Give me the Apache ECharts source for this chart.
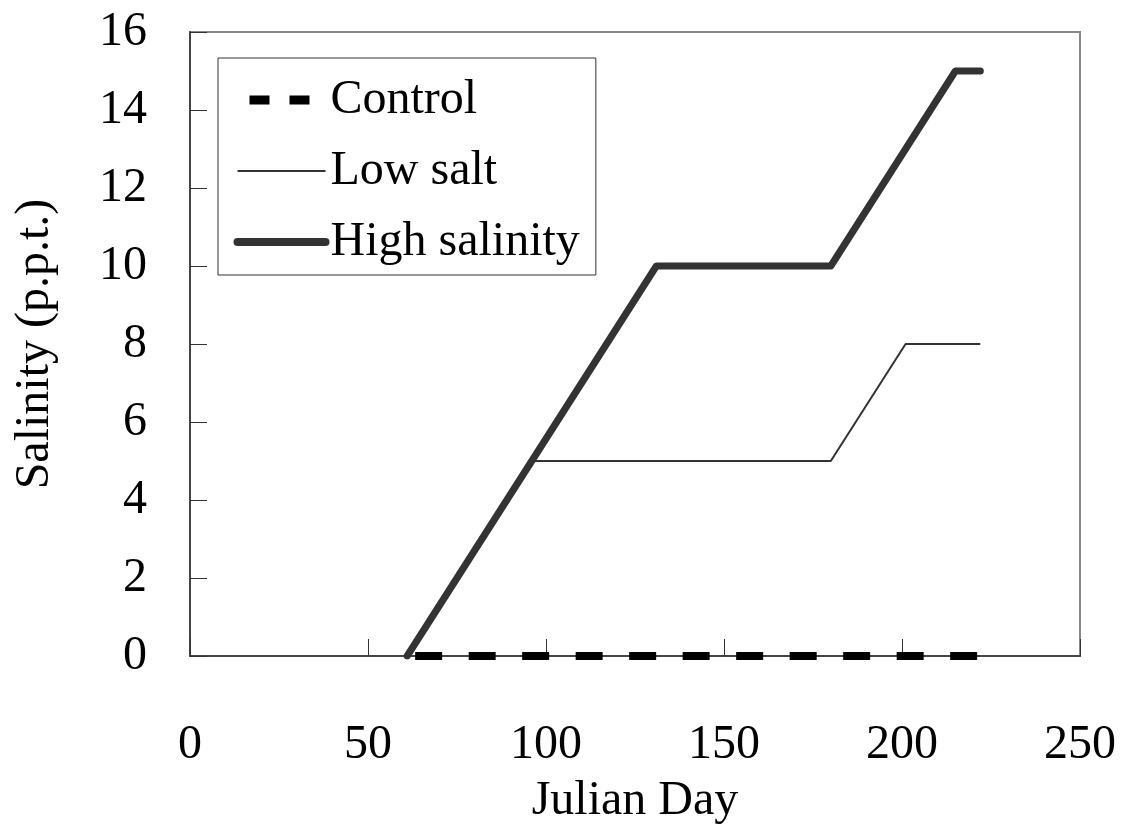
<!DOCTYPE html>
<html>
<head>
<meta charset="utf-8">
<script src="https://cdn.jsdelivr.net/npm/echarts@6/dist/echarts.min.js"></script>
<style>
  html, body { margin: 0; padding: 0; background: #fff; }
  #main { width: 1126px; height: 830px; }
</style>
</head>
<body>
<div id="main"></div>
<script>
// weekly sampling days (Julian day)
var days = [61, 68, 75, 82, 89, 96, 103, 110, 117, 124, 131, 138, 145, 152, 159, 166, 173, 180, 187, 194, 201, 208, 215, 222];
var control = [0, 0, 0, 0, 0, 0, 0, 0, 0, 0, 0, 0, 0, 0, 0, 0, 0, 0, 0, 0, 0, 0, 0, 0];
var lowSalt = [0, 1, 2, 3, 4, 5, 5, 5, 5, 5, 5, 5, 5, 5, 5, 5, 5, 5, 6, 7, 8, 8, 8, 8];
var highSalinity = [0, 1, 2, 3, 4, 5, 6, 7, 8, 9, 10, 10, 10, 10, 10, 10, 10, 10, 11, 12, 13, 14, 15, 15];

var FONT = '"Liberation Serif", "DejaVu Serif", serif';

function pairs(vals) {
  return days.map(function (d, i) { return [d, vals[i]]; });
}

var chart = echarts.init(document.getElementById('main'), null, { renderer: 'canvas' });

// legend icons: only the line, no symbol dot
var hideDot = { opacity: 0 };

var option = {
  backgroundColor: '#fff',
  animation: false,
  textStyle: { fontFamily: FONT },
  grid: {
    left: 190, right: 46, top: 32, bottom: 174,
    show: true,
    borderColor: '#888',
    borderWidth: 2
  },
  legend: {
    orient: 'vertical',
    left: 218,
    top: 58,
    padding: [18, 16, 9, 15],
    itemGap: 23,
    itemWidth: 88,
    itemHeight: 20,
    borderColor: '#333',
    borderWidth: 1,
    textStyle: { fontFamily: FONT, fontSize: 48, color: '#000', padding: [0, 0, 0, 0] },
    data: [
      { name: 'Control', itemStyle: hideDot,
        lineStyle: { width: 9, type: [20, 20], dashOffset: 28, cap: 'butt' } },
      { name: 'Low salt', itemStyle: hideDot,
        lineStyle: { width: 2 } },
      { name: 'High salinity', itemStyle: hideDot,
        lineStyle: { width: 8, cap: 'round' } }
    ]
  },
  xAxis: {
    type: 'value',
    min: 0, max: 250, interval: 50,
    name: 'Julian Day',
    nameLocation: 'middle',
    nameGap: 121,
    nameTextStyle: { fontFamily: FONT, fontSize: 48, color: '#000' },
    axisLine: { lineStyle: { color: '#444', width: 2 } },
    axisTick: { inside: true, length: 17, lineStyle: { color: '#333', width: 1 } },
    axisLabel: { fontFamily: FONT, fontSize: 48, color: '#000', margin: 65 },
    splitLine: { show: false }
  },
  yAxis: {
    type: 'value',
    min: 0, max: 16, interval: 2,
    name: 'Salinity (p.p.t.)',
    nameLocation: 'middle',
    nameGap: 131,
    nameTextStyle: { fontFamily: FONT, fontSize: 48, color: '#000' },
    axisLine: { lineStyle: { color: '#444', width: 2 } },
    axisTick: { inside: true, length: 17, lineStyle: { color: '#333', width: 1 } },
    axisLabel: { fontFamily: FONT, fontSize: 48, color: '#000', margin: 43 },
    splitLine: { show: false }
  },
  series: [
    {
      name: 'Control',
      type: 'line',
      data: pairs(control),
      symbol: 'none',
      z: 3,
      itemStyle: { color: '#000' },
      lineStyle: { color: '#000', width: 8, type: [27, 26.5], dashOffset: 45.5, cap: 'butt' }
    },
    {
      name: 'Low salt',
      type: 'line',
      data: pairs(lowSalt),
      symbol: 'none',
      z: 2,
      itemStyle: { color: '#333' },
      lineStyle: { color: '#333', width: 2 }
    },
    {
      name: 'High salinity',
      type: 'line',
      data: pairs(highSalinity),
      symbol: 'none',
      z: 4,
      itemStyle: { color: '#333' },
      lineStyle: { color: '#333', width: 7, cap: 'round', join: 'round' }
    }
  ]
};

chart.setOption(option);
</script>
</body>
</html>
